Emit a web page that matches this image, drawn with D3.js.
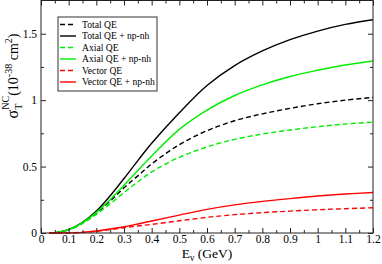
<!DOCTYPE html>
<html><head><meta charset="utf-8">
<script src="https://cdn.jsdelivr.net/npm/d3@7"></script>
<style>body{margin:0;background:#fff}svg{display:block}text{font-family:"Liberation Serif","DejaVu Serif",serif}</style>
</head><body>
<svg id="c" width="382" height="264"></svg>
<script>
const energy = [0.03,0.05,0.1,0.15,0.2,0.25,0.3,0.35,0.4,0.5,0.6,0.7,0.8,0.9,1.0,1.1,1.2];
const totalQE     = [0,0.003,0.024,0.075,0.15,0.24,0.34,0.43,0.52,0.665,0.77,0.845,0.897,0.938,0.973,1.0,1.02];
const totalQEnp   = [0,0.003,0.025,0.08,0.165,0.28,0.41,0.545,0.675,0.905,1.11,1.26,1.37,1.455,1.52,1.57,1.605];
const axialQE     = [0,0.003,0.023,0.072,0.14,0.22,0.305,0.385,0.46,0.57,0.648,0.705,0.745,0.775,0.80,0.82,0.835];
const axialQEnp   = [0,0.003,0.025,0.078,0.155,0.25,0.36,0.47,0.58,0.78,0.925,1.035,1.115,1.178,1.225,1.265,1.295];
const vectorQE    = [0,0,0.001,0.005,0.013,0.025,0.04,0.053,0.065,0.092,0.118,0.138,0.153,0.165,0.175,0.183,0.19];
const vectorQEnp  = [0,0,0.001,0.005,0.015,0.03,0.047,0.068,0.09,0.135,0.178,0.212,0.238,0.259,0.278,0.293,0.305];
const seriesNames = ["Total QE","Total QE + np-nh","Axial QE","Axial QE + np-nh","Vector QE","Vector QE + np-nh"];
const xTicks = [0,0.1,0.2,0.3,0.4,0.5,0.6,0.7,0.8,0.9,1,1.1,1.2];
const yTicks = [0,0.5,1,1.5];

const series = [
  {name:seriesNames[0], v:totalQE,    color:"#000", dash:true},
  {name:seriesNames[1], v:totalQEnp,  color:"#000", dash:false},
  {name:seriesNames[2], v:axialQE,    color:"#00ee00", dash:true},
  {name:seriesNames[3], v:axialQEnp,  color:"#00ee00", dash:false},
  {name:seriesNames[4], v:vectorQE,   color:"#ff0000", dash:true},
  {name:seriesNames[5], v:vectorQEnp, color:"#ff0000", dash:false}
];

const L=41, R=373, T=0.5, B=233;
const x = d3.scaleLinear().domain([0,1.2]).range([L,R]);
const y = d3.scaleLinear().domain([0,1.75]).range([B,T]);
const svg = d3.select("#c");

const line = d3.line().x((d,i)=>x(energy[i])).y(d=>y(d)).curve(d3.curveCatmullRom.alpha(0.5));
series.forEach(s=>{
  svg.append("path").attr("d",line(s.v)).attr("fill","none")
    .attr("stroke",s.color).attr("stroke-width",1.4)
    .attr("stroke-dasharray",s.dash?"5,3":null);
});

// frame
svg.append("rect").attr("x",L).attr("y",T).attr("width",R-L).attr("height",B-T)
  .attr("fill","none").attr("stroke","#222").attr("stroke-width",1);

// ticks
const fmt = d=>String(d);
svg.append("g").attr("transform",`translate(0,${B})`).call(d3.axisBottom(x).tickValues(xTicks).tickSize(-5).tickPadding(2).tickFormat(fmt));
const xMinor = d3.range(0.05,1.2,0.1);
svg.append("g").attr("transform",`translate(0,${B})`).call(d3.axisBottom(x).tickValues(xMinor).tickSize(-3).tickFormat(""));
svg.append("g").attr("transform",`translate(0,${T})`).call(d3.axisTop(x).tickValues(xTicks).tickSize(-5).tickFormat(""));
svg.append("g").attr("transform",`translate(0,${T})`).call(d3.axisTop(x).tickValues(xMinor).tickSize(-3).tickFormat(""));
svg.append("g").attr("transform",`translate(${L},0)`).call(d3.axisLeft(y).tickValues(yTicks).tickSize(-5).tickPadding(4).tickFormat(fmt));
const yMinor = [0.25,0.75,1.25];
svg.append("g").attr("transform",`translate(${L},0)`).call(d3.axisLeft(y).tickValues(yMinor).tickSize(-3).tickFormat(""));
svg.append("g").attr("transform",`translate(${R},0)`).call(d3.axisRight(y).tickValues(yTicks).tickSize(-5).tickFormat(""));
svg.append("g").attr("transform",`translate(${R},0)`).call(d3.axisRight(y).tickValues(yMinor).tickSize(-3).tickFormat(""));
svg.selectAll(".domain").remove();
svg.selectAll(".tick line").attr("stroke","#222");
svg.selectAll(".tick text").attr("font-family","Liberation Serif, serif").attr("font-size",11.5).attr("fill","#000");

// axis labels
const xl = svg.append("text").attr("x",207).attr("y",258).attr("text-anchor","middle").attr("font-size",13.5);
xl.append("tspan").text("E");
xl.append("tspan").attr("font-size",9.5).attr("dy",3).text("ν");
xl.append("tspan").attr("dy",-3).text(" (GeV)");

const yl = svg.append("text").attr("transform","translate(18,76) rotate(-90)").attr("text-anchor","middle").attr("font-size",14);
yl.append("tspan").attr("font-size",16).text("σ");
yl.append("tspan").attr("font-size",10).attr("dy",4).text("T");
yl.append("tspan").attr("font-size",10).attr("dy",-13).attr("dx",-6).text("NC");
yl.append("tspan").attr("dy",9).text("(10");
yl.append("tspan").attr("font-size",10).attr("dy",-6).text("-38");
yl.append("tspan").attr("dy",6).text(" cm");
yl.append("tspan").attr("font-size",10).attr("dy",-6).text("2");
yl.append("tspan").attr("dy",6).text(")");

// legend
const lg = svg.append("g");
lg.append("rect").attr("x",58).attr("y",17).attr("width",99).attr("height",74)
  .attr("fill","#fff").attr("stroke","#333").attr("stroke-width",1);
series.forEach((s,i)=>{
  const yy = 24.5 + i*11.5;
  lg.append("line").attr("x1",60).attr("x2",76).attr("y1",yy).attr("y2",yy)
    .attr("stroke",s.color).attr("stroke-width",1.4).attr("stroke-dasharray",s.dash?"5,3":null);
  lg.append("text").attr("x",82).attr("y",yy+3.3).attr("font-size",9.6).text(s.name);
});
</script>
</body></html>
